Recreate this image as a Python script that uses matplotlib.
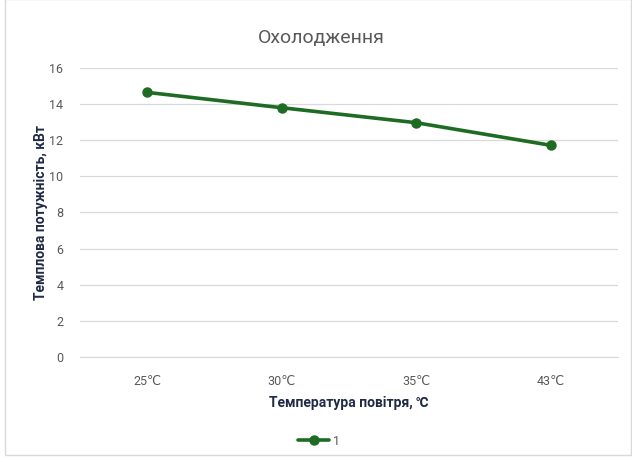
import matplotlib.pyplot as plt
from matplotlib.patches import Rectangle

categories = ["25℃", "30℃", "35℃", "43℃"]
power = [14.65, 13.8, 12.97, 11.72]
series_name = "1"

plt.rcParams["font.family"] = ["Roboto", "DejaVu Sans"]

fig = plt.figure(figsize=(6.32, 4.61), dpi=100)
ax = fig.add_axes([0.1266, 0.2256, 0.8514, 0.6269])

x = list(range(len(categories)))
ax.plot(x, power, color="#1e6b24", linewidth=2.6, marker="o", markersize=6.5,
        label=series_name, solid_capstyle="round")

ax.set_xlim(-0.5, len(categories) - 0.5)
ax.set_ylim(0, 16)
ax.set_yticks(range(0, 17, 2))
ax.set_xticks(x)
ax.set_xticklabels(categories)
ax.yaxis.grid(True, color="#d9d9d9", linewidth=0.9)
ax.set_axisbelow(True)
for s in ["top", "right", "left"]:
    ax.spines[s].set_visible(False)
ax.spines["bottom"].set_color("#d9d9d9")
ax.tick_params(axis="both", length=0, colors="#595959", labelsize=9)
ax.tick_params(axis="x", pad=13)
ax.tick_params(axis="y", pad=12)

fig.text(0.509, 0.918, "Охолодження", fontsize=14, color="#595959",
         ha="center", va="center")
ax.set_xlabel("Температура повітря, ℃", fontsize=10, fontweight="bold",
              color="#1f2a44", labelpad=6)
ax.set_ylabel("Темплова потужність, кВт", fontsize=10, fontweight="bold",
              color="#1f2a44", labelpad=1)

fig.legend(loc="center", bbox_to_anchor=(0.505, 0.043), frameon=False,
           fontsize=9, labelcolor="#595959", handlelength=2.5, handletextpad=0.3)

fig.patches.append(Rectangle((0.008, 0.012), 0.99, 0.99, transform=fig.transFigure,
                             fill=False, edgecolor="#d9d9d9", linewidth=1))

fig.savefig("out.png", dpi=100)
